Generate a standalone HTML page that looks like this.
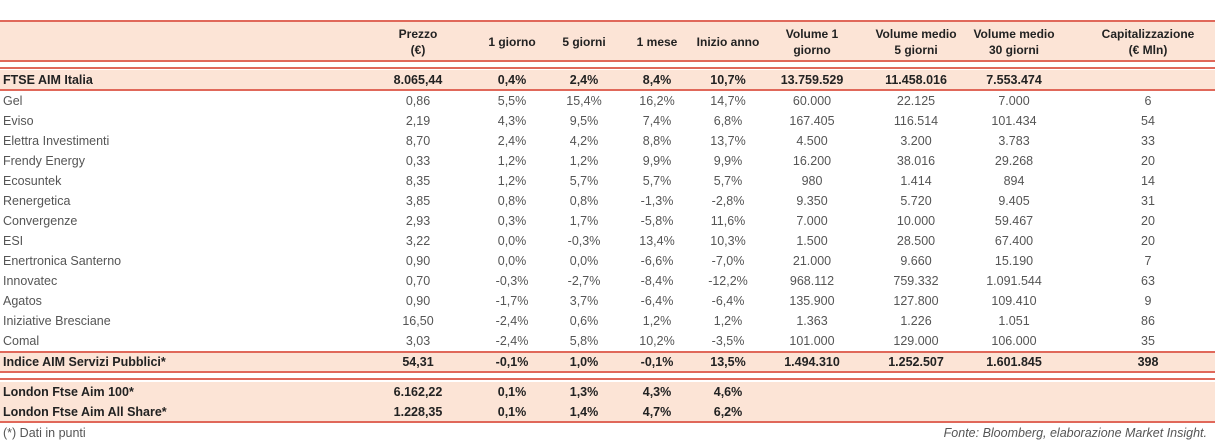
<!DOCTYPE html>
<html><head><meta charset="utf-8">
<style>
body{margin:0;width:1215px;height:443px;background:#fff;font-family:"Liberation Sans",sans-serif;color:#555;position:relative;overflow:hidden}
.c{position:absolute;white-space:nowrap;font-size:12.5px;transform:translateX(-50%);line-height:20px}
.l{position:absolute;white-space:nowrap;font-size:12.5px;left:3px;line-height:20px}
.b{font-weight:bold;color:#222}
.bg{position:absolute;left:0;width:1215px;background:#fce4d6}
.ln{position:absolute;left:0;width:1215px;background:#e0685a}
.h{position:absolute;font-weight:bold;font-size:12px;text-align:center;transform:translateX(-50%);line-height:16px;white-space:nowrap;color:#222}
</style></head><body>
<div id="t"></div>
<script>
const headers=[["Prezzo","(€)"],["1 giorno"],["5 giorni"],["1 mese"],["Inizio anno"],["Volume 1","giorno"],["Volume medio","5 giorni"],["Volume medio","30 giorni"],["Capitalizzazione","(€ Mln)"]];
const cols=[418,512,584,657,728,812,916,1014,1148];
const ftse=["FTSE AIM Italia","8.065,44","0,4%","2,4%","8,4%","10,7%","13.759.529","11.458.016","7.553.474",""];
const rows=[
["Gel","0,86","5,5%","15,4%","16,2%","14,7%","60.000","22.125","7.000","6"],
["Eviso","2,19","4,3%","9,5%","7,4%","6,8%","167.405","116.514","101.434","54"],
["Elettra Investimenti","8,70","2,4%","4,2%","8,8%","13,7%","4.500","3.200","3.783","33"],
["Frendy Energy","0,33","1,2%","1,2%","9,9%","9,9%","16.200","38.016","29.268","20"],
["Ecosuntek","8,35","1,2%","5,7%","5,7%","5,7%","980","1.414","894","14"],
["Renergetica","3,85","0,8%","0,8%","-1,3%","-2,8%","9.350","5.720","9.405","31"],
["Convergenze","2,93","0,3%","1,7%","-5,8%","11,6%","7.000","10.000","59.467","20"],
["ESI","3,22","0,0%","-0,3%","13,4%","10,3%","1.500","28.500","67.400","20"],
["Enertronica Santerno","0,90","0,0%","0,0%","-6,6%","-7,0%","21.000","9.660","15.190","7"],
["Innovatec","0,70","-0,3%","-2,7%","-8,4%","-12,2%","968.112","759.332","1.091.544","63"],
["Agatos","0,90","-1,7%","3,7%","-6,4%","-6,4%","135.900","127.800","109.410","9"],
["Iniziative Bresciane","16,50","-2,4%","0,6%","1,2%","1,2%","1.363","1.226","1.051","86"],
["Comal","3,03","-2,4%","5,8%","10,2%","-3,5%","101.000","129.000","106.000","35"]];
const indice=["Indice AIM Servizi Pubblici*","54,31","-0,1%","1,0%","-0,1%","13,5%","1.494.310","1.252.507","1.601.845","398"];
const london=[["London Ftse Aim 100*","6.162,22","0,1%","1,3%","4,3%","4,6%","","","",""],
["London Ftse Aim All Share*","1.228,35","0,1%","1,4%","4,7%","6,2%","","","",""]];
const t=document.getElementById('t');
function box(cls,top,h,name){const d=document.createElement('div');d.className=cls;d.style.top=top+'px';d.style.height=h+'px';


t.appendChild(d);}
box('bg',21,41,'header-bg');box('bg',70,20,'ftse-bg');box('bg',352,20,'indice-bg');box('bg',382,40,'london-bg');
[[20,2],[60,2],[67,2],[89,2],[351,2],[371,2],[378,2],[421,2]].forEach(([y,h])=>box('ln',y,h,'rule-line'));
headers.forEach((h,i)=>{const d=document.createElement('div');d.className='h';d.style.left=cols[i]+'px';
d.style.top=(h.length===1?34:26)+'px';d.innerHTML=h.join('<br>');


t.appendChild(d);});
function row(r,y,bold){const n=document.createElement('div');n.className='l'+(bold?' b':'');n.style.top=y+'px';n.textContent=r[0];


t.appendChild(n);
for(let i=1;i<r.length;i++){const d=document.createElement('div');d.className='c'+(bold?' b':'');d.style.left=cols[i-1]+'px';d.style.top=y+'px';d.textContent=r[i];


t.appendChild(d);}}
row(ftse,70,true);
rows.forEach((r,i)=>row(r,91+i*20,false));
row(indice,352,true);
london.forEach((r,i)=>row(r,382+i*20,true));
</script>
<div class="l" style="top:423px">(*) Dati in punti</div>
<div style="position:absolute;right:8px;top:423px;line-height:20px;font-size:12.5px;font-style:italic">Fonte: Bloomberg, elaborazione Market Insight.</div>
</body></html>
